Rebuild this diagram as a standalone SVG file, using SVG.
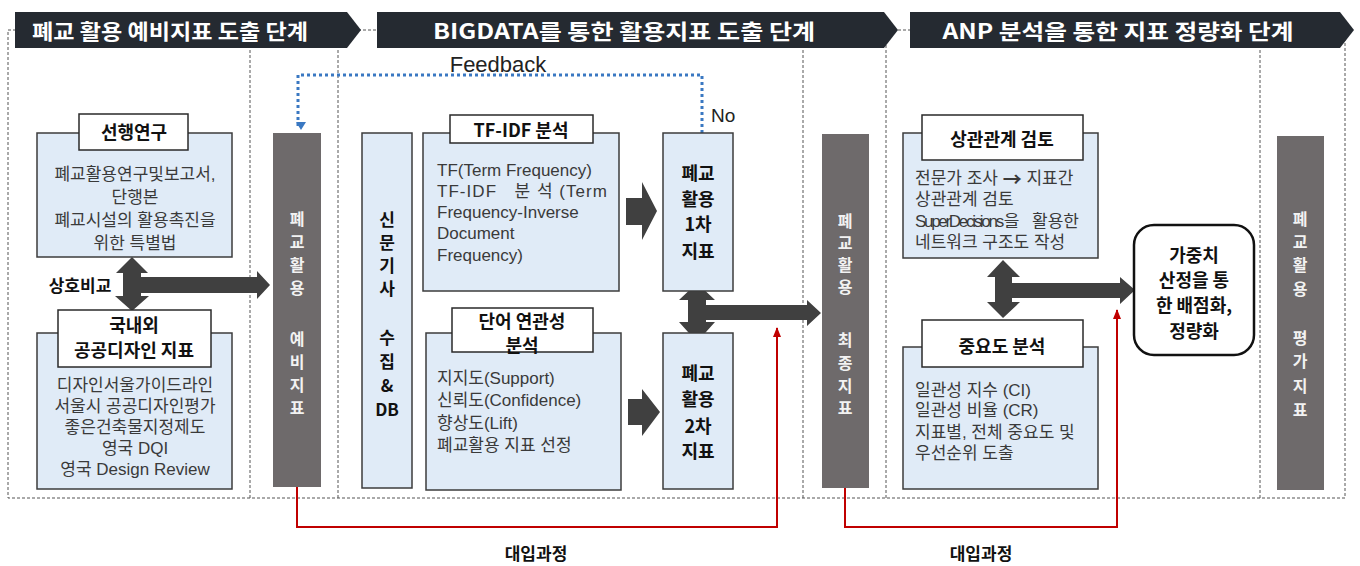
<svg xmlns="http://www.w3.org/2000/svg" width="1360" height="566" viewBox="0 0 1360 566">
<style>
.kr{font-family:"Liberation Sans","Noto Sans CJK KR",sans-serif}
.hdr{fill:#252a31}
.hdrt{font-family:"Noto Sans CJK KR",sans-serif;font-weight:bold;font-size:21px;fill:#fff;text-anchor:middle;dominant-baseline:central}
.dash{fill:none;stroke:#555;stroke-width:1;stroke-dasharray:3 2}
.blue{fill:#e0ebf7;stroke:#3c3c3c;stroke-width:1.5}
.lab{fill:#fff;stroke:#2a2a2a;stroke-width:1.5}
.bar{fill:#6e6a6b}
.blk{fill:#404040}
.body{font-family:"Liberation Sans","Noto Sans CJK KR",sans-serif;font-size:17px;fill:#3a3a3a;dominant-baseline:central}
.bc{text-anchor:middle}
.lt{font-family:"Noto Sans CJK KR",sans-serif;font-weight:bold;font-size:18px;fill:#111;text-anchor:middle;dominant-baseline:central}
.bt{font-family:"Noto Sans CJK KR",sans-serif;font-weight:bold;font-size:16px;fill:#f2f2f2;text-anchor:middle;dominant-baseline:central}
.st{font-family:"Noto Sans CJK KR",sans-serif;font-weight:bold;font-size:17px;fill:#111;text-anchor:middle;dominant-baseline:central}
.red{fill:none;stroke:#c00000;stroke-width:2}
.fb{fill:none;stroke:#3a78c2;stroke-width:3;stroke-dasharray:3 3}
</style>
<defs>
<marker id="mb" markerWidth="10" markerHeight="10" refX="5" refY="8" orient="auto" markerUnits="userSpaceOnUse" viewBox="0 0 10 10">
<path d="M0,1 L10,1 L5,9 Z" fill="#3a78c2" transform="rotate(-90 5 5)"/>
</marker>
<marker id="mr" markerWidth="10" markerHeight="12" refX="9" refY="5" orient="auto" markerUnits="userSpaceOnUse" viewBox="0 0 10 10">
<path d="M0,1 L10,5 L0,9 Z" fill="#c00000"/>
</marker>
</defs>

<!-- frame -->
<g id="frame">
<rect x="8" y="30" width="1337" height="468" fill="#f6f6f6" class="dash"/>
<line x1="250" y1="30" x2="250" y2="498" class="dash"/>
<line x1="338" y1="30" x2="338" y2="498" class="dash"/>
<line x1="803" y1="30" x2="803" y2="498" class="dash"/>
<line x1="886" y1="30" x2="886" y2="498" class="dash"/>
<line x1="1260" y1="30" x2="1260" y2="498" class="dash"/>
</g>

<!-- headers -->
<g id="header1">
<polygon class="hdr" points="15,12 347,12 361,30 347,48 15,48"/>
<text class="hdrt" x="170" y="30" textLength="276" lengthAdjust="spacingAndGlyphs">폐교 활용 예비지표 도출 단계</text>
</g>
<g id="header2">
<polygon class="hdr" points="377,12 884,12 898,30 884,48 377,48"/>
<text class="hdrt" x="624" y="30" textLength="382" lengthAdjust="spacingAndGlyphs">BIGDATA를 통한 활용지표 도출 단계</text>
</g>
<g id="header3">
<polygon class="hdr" points="910,12 1340,12 1354,30 1340,48 910,48"/>
<text class="hdrt" x="1118" y="30" textLength="351" lengthAdjust="spacingAndGlyphs">ANP 분석을 통한 지표 정량화 단계</text>
</g>

<!-- connectors -->
<g id="connectors">
<path class="fb" d="M702,133 V75 H298 V126" marker-end="url(#mb)"/>
<text class="kr" x="498" y="72" font-size="22" fill="#222" text-anchor="middle">Feedback</text>
<text class="kr" x="711" y="122" font-size="19" fill="#222">No</text>
<path class="red" d="M297,487 V527 H777 V328" marker-end="url(#mr)"/>
<path class="red" d="M845,488 V527 H1117 V310" marker-end="url(#mr)"/>
<text class="st" x="536" y="552">대입과정</text>
<text class="st" x="981" y="552">대입과정</text>
<polygon class="blk" points="132,257 148,273 141,273 141,277 257,277 257,271 270,285 257,299 257,293 141,293 141,296 149,296 132,311 115,296 123,296 123,273 116,273"/>
<text class="st" x="80" y="284" font-size="19">상호비교</text>
<polygon class="blk" points="626,198 642,198 642,182 657,211 642,240 642,225 626,225"/>
<polygon class="blk" points="628,399 642,399 642,389 660,412 642,436 642,425 628,425"/>
<polygon class="blk" points="697,283 715,300 706,300 706,305 807,305 807,300 821,313 807,326 807,320 706,320 706,322 715,322 697,342 679,322 688,322 688,300 679,300"/>
<polygon class="blk" points="1003,260 1020,277 1012,277 1012,283 1120,283 1120,277 1135,290 1120,304 1120,298 1012,298 1012,302 1020,302 1003,318 987,302 995,302 995,277 987,277"/>
</g>

<!-- left section -->
<g id="prior-research">
<rect class="blue" x="37" y="133" width="195" height="124"/>
<rect class="lab" x="79" y="114" width="109" height="36"/>
<text class="lt" x="134" y="131" font-size="19">선행연구</text>
<text class="body bc" x="135" y="174" font-size="16">폐교활용연구및보고서,</text>
<text class="body bc" x="135" y="197" font-size="16">단행본</text>
<text class="body bc" x="135" y="220" font-size="16">폐교시설의 활용촉진을</text>
<text class="body bc" x="135" y="243" font-size="16">위한 특별법</text>
</g>
<g id="public-design">
<rect class="blue" x="37" y="333" width="195" height="156"/>
<rect class="lab" x="58" y="310" width="153" height="57"/>
<text class="lt" x="134" y="324" font-size="17">국내외</text>
<text class="lt" x="134" y="349" font-size="17">공공디자인 지표</text>
<text class="body bc" x="135" y="385" font-size="16.5">디자인서울가이드라인</text>
<text class="body bc" x="135" y="406" font-size="16.5">서울시 공공디자인평가</text>
<text class="body bc" x="135" y="427" font-size="16.5">좋은건축물지정제도</text>
<text class="body bc" x="135" y="448" font-size="16.5">영국 DQI</text>
<text class="body bc" x="135" y="469" font-size="16.5">영국 Design Review</text>
</g>
<g id="prelim-index">
<rect class="bar" x="273" y="133" width="48" height="354"/>
<text class="bt" x="297" y="218">폐</text>
<text class="bt" x="297" y="241">교</text>
<text class="bt" x="297" y="264">활</text>
<text class="bt" x="297" y="287">용</text>
<text class="bt" x="297" y="338">예</text>
<text class="bt" x="297" y="361">비</text>
<text class="bt" x="297" y="384">지</text>
<text class="bt" x="297" y="407">표</text>
</g>

<!-- middle section -->
<g id="news-db">
<rect class="blue" x="362" y="133" width="50" height="355"/>
<text class="st" x="387" y="218">신</text>
<text class="st" x="387" y="241">문</text>
<text class="st" x="387" y="264">기</text>
<text class="st" x="387" y="287">사</text>
<text class="st" x="387" y="336">수</text>
<text class="st" x="387" y="360">집</text>
<text class="st" x="387" y="384">&amp;</text>
<text class="st" x="387" y="408">DB</text>
</g>
<g id="tfidf">
<rect class="blue" x="423" y="133" width="196" height="158"/>
<rect class="lab" x="450" y="115" width="143" height="28"/>
<text class="lt" x="521" y="129" font-size="19">TF-IDF 분석</text>
<text class="body" x="437" y="170">TF(Term Frequency)</text>
<text class="body" x="437" y="191" xml:space="preserve" textLength="170" lengthAdjust="spacing">TF-IDF   분 석 (Term</text>
<text class="body" x="437" y="212">Frequency-Inverse</text>
<text class="body" x="437" y="233">Document</text>
<text class="body" x="437" y="255">Frequency)</text>
</g>
<g id="word-assoc">
<rect class="blue" x="426" y="333" width="195" height="157"/>
<rect class="lab" x="452" y="308" width="141" height="44"/>
<text class="lt" x="522" y="320" font-size="17">단어 연관성</text>
<text class="lt" x="522" y="344" font-size="17">분석</text>
<text class="body" x="437" y="378">지지도(Support)</text>
<text class="body" x="437" y="400">신뢰도(Confidence)</text>
<text class="body" x="437" y="423">향상도(Lift)</text>
<text class="body" x="437" y="445">폐교활용 지표 선정</text>
</g>
<g id="index1">
<rect class="blue" x="663" y="133" width="70" height="158"/>
<text class="lt" x="698" y="172" font-size="19">폐교</text>
<text class="lt" x="698" y="198" font-size="19">활용</text>
<text class="lt" x="698" y="223" font-size="19">1차</text>
<text class="lt" x="698" y="250" font-size="19">지표</text>
</g>
<g id="index2">
<rect class="blue" x="663" y="333" width="70" height="156"/>
<text class="lt" x="698" y="372" font-size="19">폐교</text>
<text class="lt" x="698" y="398" font-size="19">활용</text>
<text class="lt" x="698" y="425" font-size="19">2차</text>
<text class="lt" x="698" y="450" font-size="19">지표</text>
</g>
<g id="final-index">
<rect class="bar" x="822" y="134" width="47" height="354"/>
<text class="bt" x="845" y="220">폐</text>
<text class="bt" x="845" y="242">교</text>
<text class="bt" x="845" y="264">활</text>
<text class="bt" x="845" y="286">용</text>
<text class="bt" x="845" y="339">최</text>
<text class="bt" x="845" y="362">종</text>
<text class="bt" x="845" y="385">지</text>
<text class="bt" x="845" y="407">표</text>
</g>

<!-- right section -->
<g id="correlation">
<rect class="blue" x="903" y="133" width="195" height="125"/>
<rect class="lab" x="922" y="115" width="161" height="45"/>
<text class="lt" x="1002" y="138" font-size="19">상관관계 검토</text>
<text class="body" x="915" y="178">전문가 조사 <tspan font-family="Noto Sans CJK KR" font-weight="bold" font-size="19">→</tspan> 지표간</text>
<text class="body" x="915" y="199">상관관계 검토</text>
<text class="body" x="915" y="221"><tspan letter-spacing="-2.3">SuperDecisions</tspan><tspan dx="2">을</tspan><tspan x="1032">활용한</tspan></text>
<text class="body" x="915" y="242">네트워크 구조도 작성</text>
</g>
<g id="importance">
<rect class="blue" x="903" y="347" width="195" height="142"/>
<rect class="lab" x="922" y="320" width="161" height="47"/>
<text class="lt" x="1002" y="345" font-size="19">중요도 분석</text>
<text class="body" x="915" y="390">일관성 지수 (CI)</text>
<text class="body" x="915" y="410">일관성 비율 (CR)</text>
<text class="body" x="915" y="432">지표별, 전체 중요도 및</text>
<text class="body" x="915" y="453">우선순위 도출</text>
</g>
<g id="weighting">
<rect x="1134" y="225" width="120" height="130" rx="20" ry="20" fill="#fff" stroke="#111" stroke-width="2.5"/>
<text class="lt" x="1194" y="254" font-size="19">가중치</text>
<text class="lt" x="1194" y="279" font-size="19">산정을 통</text>
<text class="lt" x="1194" y="304" font-size="19">한 배점화,</text>
<text class="lt" x="1194" y="330" font-size="19">정량화</text>
</g>
<g id="eval-index">
<rect class="bar" x="1277" y="136" width="47" height="354"/>
<text class="bt" x="1300" y="218">폐</text>
<text class="bt" x="1300" y="241">교</text>
<text class="bt" x="1300" y="264">활</text>
<text class="bt" x="1300" y="288">용</text>
<text class="bt" x="1300" y="337">평</text>
<text class="bt" x="1300" y="360">가</text>
<text class="bt" x="1300" y="385">지</text>
<text class="bt" x="1300" y="409">표</text>
</g>
</svg>
